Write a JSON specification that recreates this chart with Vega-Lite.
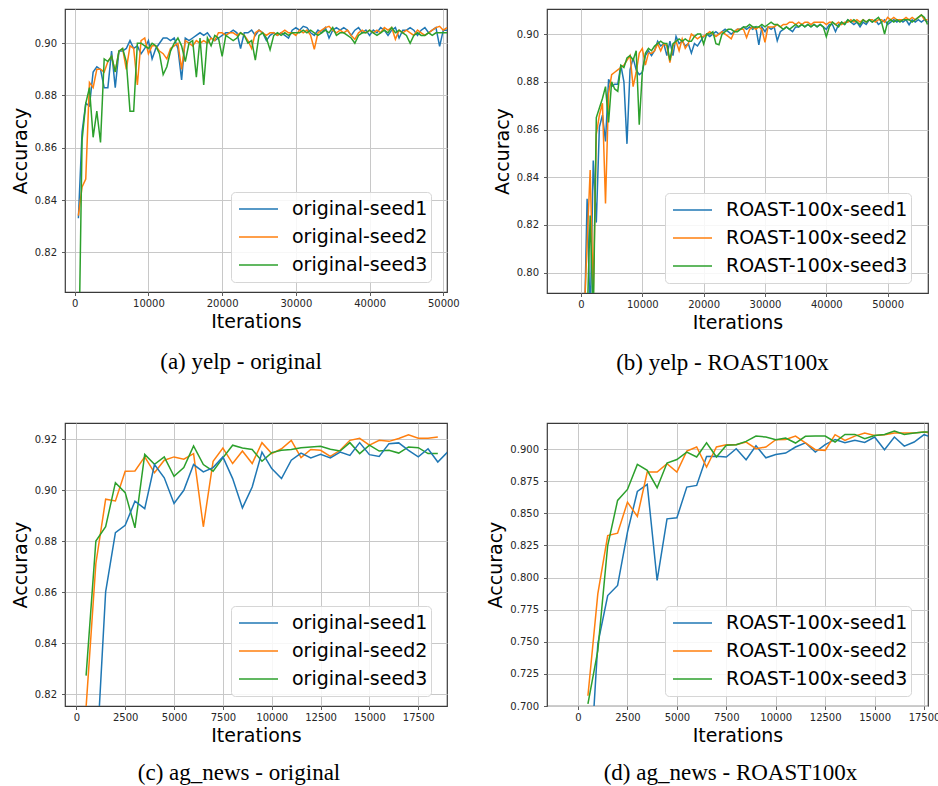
{
"$schema": "https://vega.github.io/schema/vega-lite/v6.json",
"padding": {"left": 10, "top": 8, "right": 0, "bottom": 0},
"config": {
  "font": "DejaVu Sans",
  "view": {"stroke": "#3a3a3a", "strokeWidth": 1.2},
  "axis": {"grid": true, "gridColor": "#c8c8c8", "gridWidth": 1, "domain": false, "tickColor": "#333333", "tickSize": 3.5, "tickWidth": 0.8, "labelFont": "DejaVu Sans", "labelFontSize": 10, "labelColor": "#262626", "labelPadding": 3, "labelFlush": false, "labelOverlap": false, "titleFont": "DejaVu Sans", "titleFontSize": 19, "titleFontWeight": "normal", "titleColor": "#000000"},
  "axisX": {"titlePadding": 4},
  "axisY": {"titlePadding": 4, "labelPadding": 5},
  "legend": {"orient": "none", "labelFont": "DejaVu Sans", "labelFontSize": 19, "labelColor": "#000000", "labelLimit": 0, "symbolType": "stroke", "symbolSize": 1521, "symbolStrokeWidth": 1.5, "symbolOffset": 4, "labelOffset": 13, "clipHeight": 28, "strokeColor": "#d6d6d6", "fillColor": "rgba(255,255,255,0.85)", "cornerRadius": 4, "padding": 3, "rowPadding": 0},
  "title": {"font": "Liberation Serif", "fontSize": 23, "fontWeight": "normal", "color": "#000000", "orient": "bottom", "frame": "group", "anchor": "middle", "offset": 19}
},
"datasets": {
"a": [
{"x":500,"original-seed1":0.833,"original-seed2":0.834,"original-seed3":0.770},
{"x":1000,"original-seed1":0.866,"original-seed2":0.845,"original-seed3":0.863},
{"x":1500,"original-seed1":0.877,"original-seed2":0.848,"original-seed3":0.877},
{"x":2000,"original-seed1":0.876,"original-seed2":0.885,"original-seed3":0.883},
{"x":2500,"original-seed1":0.889,"original-seed2":0.883,"original-seed3":0.864},
{"x":3000,"original-seed1":0.891,"original-seed2":0.890,"original-seed3":0.874},
{"x":3500,"original-seed1":0.890,"original-seed2":0.890,"original-seed3":0.862},
{"x":4000,"original-seed1":0.883,"original-seed2":0.889,"original-seed3":0.894},
{"x":4500,"original-seed1":0.883,"original-seed2":0.893,"original-seed3":0.893},
{"x":5000,"original-seed1":0.897,"original-seed2":0.895,"original-seed3":0.895},
{"x":5500,"original-seed1":0.883,"original-seed2":0.889,"original-seed3":0.889},
{"x":6000,"original-seed1":0.897,"original-seed2":0.897,"original-seed3":0.897},
{"x":6500,"original-seed1":0.897,"original-seed2":0.898,"original-seed3":0.898},
{"x":7000,"original-seed1":0.898,"original-seed2":0.890,"original-seed3":0.893},
{"x":7500,"original-seed1":0.901,"original-seed2":0.899,"original-seed3":0.874},
{"x":8000,"original-seed1":0.898,"original-seed2":0.898,"original-seed3":0.874},
{"x":8500,"original-seed1":0.899,"original-seed2":0.884,"original-seed3":0.900},
{"x":9000,"original-seed1":0.896,"original-seed2":0.901,"original-seed3":0.900},
{"x":9500,"original-seed1":0.898,"original-seed2":0.902,"original-seed3":0.899},
{"x":10000,"original-seed1":0.901,"original-seed2":0.896,"original-seed3":0.898},
{"x":10500,"original-seed1":0.894,"original-seed2":0.899,"original-seed3":0.900},
{"x":11000,"original-seed1":0.898,"original-seed2":0.899,"original-seed3":0.899},
{"x":11500,"original-seed1":0.900,"original-seed2":0.897,"original-seed3":0.896},
{"x":12000,"original-seed1":0.902,"original-seed2":0.896,"original-seed3":0.888},
{"x":12500,"original-seed1":0.902,"original-seed2":0.894,"original-seed3":0.891},
{"x":13000,"original-seed1":0.901,"original-seed2":0.898,"original-seed3":0.897},
{"x":13500,"original-seed1":0.902,"original-seed2":0.899,"original-seed3":0.900},
{"x":14000,"original-seed1":0.898,"original-seed2":0.900,"original-seed3":0.902},
{"x":14500,"original-seed1":0.886,"original-seed2":0.890,"original-seed3":0.899},
{"x":15000,"original-seed1":0.902,"original-seed2":0.901,"original-seed3":0.893},
{"x":15500,"original-seed1":0.901,"original-seed2":0.900,"original-seed3":0.900},
{"x":16000,"original-seed1":0.902,"original-seed2":0.899,"original-seed3":0.901},
{"x":16500,"original-seed1":0.903,"original-seed2":0.901,"original-seed3":0.887},
{"x":17000,"original-seed1":0.904,"original-seed2":0.900,"original-seed3":0.902},
{"x":17500,"original-seed1":0.903,"original-seed2":0.901,"original-seed3":0.884},
{"x":18000,"original-seed1":0.904,"original-seed2":0.900,"original-seed3":0.902},
{"x":18500,"original-seed1":0.902,"original-seed2":0.902,"original-seed3":0.899},
{"x":19000,"original-seed1":0.901,"original-seed2":0.901,"original-seed3":0.903},
{"x":19500,"original-seed1":0.902,"original-seed2":0.904,"original-seed3":0.902},
{"x":20000,"original-seed1":0.903,"original-seed2":0.904,"original-seed3":0.895},
{"x":20500,"original-seed1":0.904,"original-seed2":0.903,"original-seed3":0.903},
{"x":21000,"original-seed1":0.904,"original-seed2":0.904,"original-seed3":0.902},
{"x":21500,"original-seed1":0.905,"original-seed2":0.904,"original-seed3":0.901},
{"x":22000,"original-seed1":0.904,"original-seed2":0.903,"original-seed3":0.902},
{"x":22500,"original-seed1":0.898,"original-seed2":0.904,"original-seed3":0.904},
{"x":23000,"original-seed1":0.904,"original-seed2":0.903,"original-seed3":0.903},
{"x":23500,"original-seed1":0.904,"original-seed2":0.901,"original-seed3":0.900},
{"x":24000,"original-seed1":0.905,"original-seed2":0.898,"original-seed3":0.901},
{"x":24500,"original-seed1":0.903,"original-seed2":0.904,"original-seed3":0.8935},
{"x":25000,"original-seed1":0.905,"original-seed2":0.905,"original-seed3":0.903},
{"x":25500,"original-seed1":0.904,"original-seed2":0.904,"original-seed3":0.904},
{"x":26000,"original-seed1":0.901,"original-seed2":0.903,"original-seed3":0.902},
{"x":26500,"original-seed1":0.903,"original-seed2":0.904,"original-seed3":0.8975},
{"x":27000,"original-seed1":0.904,"original-seed2":0.904,"original-seed3":0.903},
{"x":27500,"original-seed1":0.903,"original-seed2":0.903,"original-seed3":0.904},
{"x":28000,"original-seed1":0.904,"original-seed2":0.904,"original-seed3":0.903},
{"x":28500,"original-seed1":0.903,"original-seed2":0.905,"original-seed3":0.904},
{"x":29000,"original-seed1":0.902,"original-seed2":0.904,"original-seed3":0.903},
{"x":29500,"original-seed1":0.905,"original-seed2":0.904,"original-seed3":0.904},
{"x":30000,"original-seed1":0.906,"original-seed2":0.903,"original-seed3":0.904},
{"x":30500,"original-seed1":0.905,"original-seed2":0.905,"original-seed3":0.904},
{"x":31000,"original-seed1":0.9065,"original-seed2":0.904,"original-seed3":0.905},
{"x":31500,"original-seed1":0.906,"original-seed2":0.905,"original-seed3":0.904},
{"x":32000,"original-seed1":0.904,"original-seed2":0.903,"original-seed3":0.905},
{"x":32500,"original-seed1":0.903,"original-seed2":0.8977,"original-seed3":0.904},
{"x":33000,"original-seed1":0.905,"original-seed2":0.904,"original-seed3":0.903},
{"x":33500,"original-seed1":0.904,"original-seed2":0.905,"original-seed3":0.904},
{"x":34000,"original-seed1":0.906,"original-seed2":0.906,"original-seed3":0.905},
{"x":34500,"original-seed1":0.902,"original-seed2":0.9065,"original-seed3":0.904},
{"x":35000,"original-seed1":0.905,"original-seed2":0.905,"original-seed3":0.906},
{"x":35500,"original-seed1":0.906,"original-seed2":0.904,"original-seed3":0.903},
{"x":36000,"original-seed1":0.905,"original-seed2":0.905,"original-seed3":0.904},
{"x":36500,"original-seed1":0.906,"original-seed2":0.904,"original-seed3":0.904},
{"x":37000,"original-seed1":0.905,"original-seed2":0.905,"original-seed3":0.903},
{"x":37500,"original-seed1":0.903,"original-seed2":0.903,"original-seed3":0.902},
{"x":38000,"original-seed1":0.905,"original-seed2":0.9015,"original-seed3":0.900},
{"x":38500,"original-seed1":0.906,"original-seed2":0.904,"original-seed3":0.903},
{"x":39000,"original-seed1":0.904,"original-seed2":0.905,"original-seed3":0.904},
{"x":39500,"original-seed1":0.905,"original-seed2":0.904,"original-seed3":0.904},
{"x":40000,"original-seed1":0.903,"original-seed2":0.905,"original-seed3":0.905},
{"x":40500,"original-seed1":0.905,"original-seed2":0.904,"original-seed3":0.904},
{"x":41000,"original-seed1":0.904,"original-seed2":0.905,"original-seed3":0.903},
{"x":41500,"original-seed1":0.906,"original-seed2":0.904,"original-seed3":0.904},
{"x":42000,"original-seed1":0.905,"original-seed2":0.906,"original-seed3":0.905},
{"x":42500,"original-seed1":0.903,"original-seed2":0.905,"original-seed3":0.904},
{"x":43000,"original-seed1":0.905,"original-seed2":0.906,"original-seed3":0.906},
{"x":43500,"original-seed1":0.906,"original-seed2":0.9015,"original-seed3":0.904},
{"x":44000,"original-seed1":0.902,"original-seed2":0.905,"original-seed3":0.905},
{"x":44500,"original-seed1":0.905,"original-seed2":0.904,"original-seed3":0.904},
{"x":45000,"original-seed1":0.905,"original-seed2":0.905,"original-seed3":0.903},
{"x":45500,"original-seed1":0.906,"original-seed2":0.904,"original-seed3":0.900},
{"x":46000,"original-seed1":0.905,"original-seed2":0.903,"original-seed3":0.903},
{"x":46500,"original-seed1":0.903,"original-seed2":0.905,"original-seed3":0.904},
{"x":47000,"original-seed1":0.905,"original-seed2":0.904,"original-seed3":0.903},
{"x":47500,"original-seed1":0.906,"original-seed2":0.903,"original-seed3":0.903},
{"x":48000,"original-seed1":0.904,"original-seed2":0.904,"original-seed3":0.904},
{"x":48500,"original-seed1":0.905,"original-seed2":0.905,"original-seed3":0.903},
{"x":49000,"original-seed1":0.906,"original-seed2":0.906,"original-seed3":0.904},
{"x":49500,"original-seed1":0.8988,"original-seed2":0.9065,"original-seed3":0.904},
{"x":50000,"original-seed1":0.905,"original-seed2":0.905,"original-seed3":0.904},
{"x":50500,"original-seed1":0.905,"original-seed2":0.906,"original-seed3":0.904}
],
"b": [
{"x":500,"ROAST-100x-seed1":0.770,"ROAST-100x-seed2":0.780,"ROAST-100x-seed3":0.760},
{"x":1000,"ROAST-100x-seed1":0.831,"ROAST-100x-seed2":0.812,"ROAST-100x-seed3":0.780},
{"x":1500,"ROAST-100x-seed1":0.780,"ROAST-100x-seed2":0.843,"ROAST-100x-seed3":0.824},
{"x":2000,"ROAST-100x-seed1":0.847,"ROAST-100x-seed2":0.790,"ROAST-100x-seed3":0.780},
{"x":2500,"ROAST-100x-seed1":0.821,"ROAST-100x-seed2":0.858,"ROAST-100x-seed3":0.865},
{"x":3000,"ROAST-100x-seed1":0.861,"ROAST-100x-seed2":0.866,"ROAST-100x-seed3":0.869},
{"x":3500,"ROAST-100x-seed1":0.866,"ROAST-100x-seed2":0.871,"ROAST-100x-seed3":0.873},
{"x":4000,"ROAST-100x-seed1":0.855,"ROAST-100x-seed2":0.829,"ROAST-100x-seed3":0.878},
{"x":4500,"ROAST-100x-seed1":0.881,"ROAST-100x-seed2":0.875,"ROAST-100x-seed3":0.863},
{"x":5000,"ROAST-100x-seed1":0.878,"ROAST-100x-seed2":0.883,"ROAST-100x-seed3":0.880},
{"x":5500,"ROAST-100x-seed1":0.879,"ROAST-100x-seed2":0.884,"ROAST-100x-seed3":0.877},
{"x":6000,"ROAST-100x-seed1":0.879,"ROAST-100x-seed2":0.885,"ROAST-100x-seed3":0.876},
{"x":6500,"ROAST-100x-seed1":0.887,"ROAST-100x-seed2":0.886,"ROAST-100x-seed3":0.887},
{"x":7000,"ROAST-100x-seed1":0.880,"ROAST-100x-seed2":0.887,"ROAST-100x-seed3":0.886},
{"x":7500,"ROAST-100x-seed1":0.854,"ROAST-100x-seed2":0.889,"ROAST-100x-seed3":0.890},
{"x":8000,"ROAST-100x-seed1":0.885,"ROAST-100x-seed2":0.891,"ROAST-100x-seed3":0.891},
{"x":8500,"ROAST-100x-seed1":0.890,"ROAST-100x-seed2":0.878,"ROAST-100x-seed3":0.889},
{"x":9000,"ROAST-100x-seed1":0.885,"ROAST-100x-seed2":0.884,"ROAST-100x-seed3":0.893},
{"x":9500,"ROAST-100x-seed1":0.883,"ROAST-100x-seed2":0.892,"ROAST-100x-seed3":0.862},
{"x":10000,"ROAST-100x-seed1":0.884,"ROAST-100x-seed2":0.894,"ROAST-100x-seed3":0.884},
{"x":10500,"ROAST-100x-seed1":0.891,"ROAST-100x-seed2":0.887,"ROAST-100x-seed3":0.892},
{"x":11000,"ROAST-100x-seed1":0.893,"ROAST-100x-seed2":0.892,"ROAST-100x-seed3":0.894},
{"x":11500,"ROAST-100x-seed1":0.891,"ROAST-100x-seed2":0.892,"ROAST-100x-seed3":0.893},
{"x":12000,"ROAST-100x-seed1":0.893,"ROAST-100x-seed2":0.893,"ROAST-100x-seed3":0.895},
{"x":12500,"ROAST-100x-seed1":0.897,"ROAST-100x-seed2":0.896,"ROAST-100x-seed3":0.896},
{"x":13000,"ROAST-100x-seed1":0.895,"ROAST-100x-seed2":0.893,"ROAST-100x-seed3":0.897},
{"x":13500,"ROAST-100x-seed1":0.896,"ROAST-100x-seed2":0.896,"ROAST-100x-seed3":0.896},
{"x":14000,"ROAST-100x-seed1":0.891,"ROAST-100x-seed2":0.895,"ROAST-100x-seed3":0.896},
{"x":14500,"ROAST-100x-seed1":0.897,"ROAST-100x-seed2":0.888,"ROAST-100x-seed3":0.889},
{"x":15000,"ROAST-100x-seed1":0.891,"ROAST-100x-seed2":0.895,"ROAST-100x-seed3":0.896},
{"x":15500,"ROAST-100x-seed1":0.899,"ROAST-100x-seed2":0.897,"ROAST-100x-seed3":0.897},
{"x":16000,"ROAST-100x-seed1":0.896,"ROAST-100x-seed2":0.893,"ROAST-100x-seed3":0.898},
{"x":16500,"ROAST-100x-seed1":0.897,"ROAST-100x-seed2":0.898,"ROAST-100x-seed3":0.897},
{"x":17000,"ROAST-100x-seed1":0.895,"ROAST-100x-seed2":0.894,"ROAST-100x-seed3":0.898},
{"x":17500,"ROAST-100x-seed1":0.896,"ROAST-100x-seed2":0.896,"ROAST-100x-seed3":0.897},
{"x":18000,"ROAST-100x-seed1":0.892,"ROAST-100x-seed2":0.900,"ROAST-100x-seed3":0.897},
{"x":18500,"ROAST-100x-seed1":0.896,"ROAST-100x-seed2":0.899,"ROAST-100x-seed3":0.899},
{"x":19000,"ROAST-100x-seed1":0.895,"ROAST-100x-seed2":0.898,"ROAST-100x-seed3":0.900},
{"x":19500,"ROAST-100x-seed1":0.897,"ROAST-100x-seed2":0.899,"ROAST-100x-seed3":0.900},
{"x":20000,"ROAST-100x-seed1":0.899,"ROAST-100x-seed2":0.899,"ROAST-100x-seed3":0.8958},
{"x":20500,"ROAST-100x-seed1":0.900,"ROAST-100x-seed2":0.900,"ROAST-100x-seed3":0.900},
{"x":21000,"ROAST-100x-seed1":0.899,"ROAST-100x-seed2":0.901,"ROAST-100x-seed3":0.900},
{"x":21500,"ROAST-100x-seed1":0.900,"ROAST-100x-seed2":0.900,"ROAST-100x-seed3":0.901},
{"x":22000,"ROAST-100x-seed1":0.901,"ROAST-100x-seed2":0.899,"ROAST-100x-seed3":0.896},
{"x":22500,"ROAST-100x-seed1":0.900,"ROAST-100x-seed2":0.900,"ROAST-100x-seed3":0.8955},
{"x":23000,"ROAST-100x-seed1":0.901,"ROAST-100x-seed2":0.901,"ROAST-100x-seed3":0.900},
{"x":23500,"ROAST-100x-seed1":0.902,"ROAST-100x-seed2":0.900,"ROAST-100x-seed3":0.901},
{"x":24000,"ROAST-100x-seed1":0.901,"ROAST-100x-seed2":0.899,"ROAST-100x-seed3":0.902},
{"x":24500,"ROAST-100x-seed1":0.900,"ROAST-100x-seed2":0.898,"ROAST-100x-seed3":0.902},
{"x":25000,"ROAST-100x-seed1":0.901,"ROAST-100x-seed2":0.901,"ROAST-100x-seed3":0.901},
{"x":25500,"ROAST-100x-seed1":0.902,"ROAST-100x-seed2":0.902,"ROAST-100x-seed3":0.901},
{"x":26000,"ROAST-100x-seed1":0.902,"ROAST-100x-seed2":0.902,"ROAST-100x-seed3":0.902},
{"x":26500,"ROAST-100x-seed1":0.903,"ROAST-100x-seed2":0.902,"ROAST-100x-seed3":0.903},
{"x":27000,"ROAST-100x-seed1":0.902,"ROAST-100x-seed2":0.8985,"ROAST-100x-seed3":0.903},
{"x":27500,"ROAST-100x-seed1":0.903,"ROAST-100x-seed2":0.902,"ROAST-100x-seed3":0.904},
{"x":28000,"ROAST-100x-seed1":0.902,"ROAST-100x-seed2":0.903,"ROAST-100x-seed3":0.903},
{"x":28500,"ROAST-100x-seed1":0.903,"ROAST-100x-seed2":0.902,"ROAST-100x-seed3":0.903},
{"x":29000,"ROAST-100x-seed1":0.8955,"ROAST-100x-seed2":0.903,"ROAST-100x-seed3":0.903},
{"x":29500,"ROAST-100x-seed1":0.903,"ROAST-100x-seed2":0.902,"ROAST-100x-seed3":0.904},
{"x":30000,"ROAST-100x-seed1":0.901,"ROAST-100x-seed2":0.8965,"ROAST-100x-seed3":0.903},
{"x":30500,"ROAST-100x-seed1":0.903,"ROAST-100x-seed2":0.903,"ROAST-100x-seed3":0.904},
{"x":31000,"ROAST-100x-seed1":0.902,"ROAST-100x-seed2":0.903,"ROAST-100x-seed3":0.905},
{"x":31500,"ROAST-100x-seed1":0.903,"ROAST-100x-seed2":0.903,"ROAST-100x-seed3":0.904},
{"x":32000,"ROAST-100x-seed1":0.8972,"ROAST-100x-seed2":0.904,"ROAST-100x-seed3":0.904},
{"x":32500,"ROAST-100x-seed1":0.901,"ROAST-100x-seed2":0.903,"ROAST-100x-seed3":0.903},
{"x":33000,"ROAST-100x-seed1":0.902,"ROAST-100x-seed2":0.904,"ROAST-100x-seed3":0.902},
{"x":33500,"ROAST-100x-seed1":0.903,"ROAST-100x-seed2":0.904,"ROAST-100x-seed3":0.903},
{"x":34000,"ROAST-100x-seed1":0.902,"ROAST-100x-seed2":0.905,"ROAST-100x-seed3":0.902},
{"x":34500,"ROAST-100x-seed1":0.901,"ROAST-100x-seed2":0.905,"ROAST-100x-seed3":0.903},
{"x":35000,"ROAST-100x-seed1":0.903,"ROAST-100x-seed2":0.904,"ROAST-100x-seed3":0.904},
{"x":35500,"ROAST-100x-seed1":0.903,"ROAST-100x-seed2":0.905,"ROAST-100x-seed3":0.903},
{"x":36000,"ROAST-100x-seed1":0.904,"ROAST-100x-seed2":0.904,"ROAST-100x-seed3":0.904},
{"x":36500,"ROAST-100x-seed1":0.903,"ROAST-100x-seed2":0.905,"ROAST-100x-seed3":0.903},
{"x":37000,"ROAST-100x-seed1":0.904,"ROAST-100x-seed2":0.905,"ROAST-100x-seed3":0.904},
{"x":37500,"ROAST-100x-seed1":0.903,"ROAST-100x-seed2":0.904,"ROAST-100x-seed3":0.903},
{"x":38000,"ROAST-100x-seed1":0.904,"ROAST-100x-seed2":0.905,"ROAST-100x-seed3":0.904},
{"x":38500,"ROAST-100x-seed1":0.903,"ROAST-100x-seed2":0.905,"ROAST-100x-seed3":0.903},
{"x":39000,"ROAST-100x-seed1":0.904,"ROAST-100x-seed2":0.905,"ROAST-100x-seed3":0.904},
{"x":39500,"ROAST-100x-seed1":0.903,"ROAST-100x-seed2":0.905,"ROAST-100x-seed3":0.903},
{"x":40000,"ROAST-100x-seed1":0.902,"ROAST-100x-seed2":0.904,"ROAST-100x-seed3":0.8989},
{"x":40500,"ROAST-100x-seed1":0.904,"ROAST-100x-seed2":0.905,"ROAST-100x-seed3":0.903},
{"x":41000,"ROAST-100x-seed1":0.904,"ROAST-100x-seed2":0.905,"ROAST-100x-seed3":0.905},
{"x":41500,"ROAST-100x-seed1":0.901,"ROAST-100x-seed2":0.904,"ROAST-100x-seed3":0.904},
{"x":42000,"ROAST-100x-seed1":0.904,"ROAST-100x-seed2":0.905,"ROAST-100x-seed3":0.903},
{"x":42500,"ROAST-100x-seed1":0.905,"ROAST-100x-seed2":0.904,"ROAST-100x-seed3":0.905},
{"x":43000,"ROAST-100x-seed1":0.904,"ROAST-100x-seed2":0.905,"ROAST-100x-seed3":0.904},
{"x":43500,"ROAST-100x-seed1":0.906,"ROAST-100x-seed2":0.905,"ROAST-100x-seed3":0.906},
{"x":44000,"ROAST-100x-seed1":0.905,"ROAST-100x-seed2":0.906,"ROAST-100x-seed3":0.905},
{"x":44500,"ROAST-100x-seed1":0.904,"ROAST-100x-seed2":0.905,"ROAST-100x-seed3":0.906},
{"x":45000,"ROAST-100x-seed1":0.905,"ROAST-100x-seed2":0.906,"ROAST-100x-seed3":0.905},
{"x":45500,"ROAST-100x-seed1":0.903,"ROAST-100x-seed2":0.905,"ROAST-100x-seed3":0.904},
{"x":46000,"ROAST-100x-seed1":0.905,"ROAST-100x-seed2":0.906,"ROAST-100x-seed3":0.906},
{"x":46500,"ROAST-100x-seed1":0.904,"ROAST-100x-seed2":0.905,"ROAST-100x-seed3":0.905},
{"x":47000,"ROAST-100x-seed1":0.906,"ROAST-100x-seed2":0.906,"ROAST-100x-seed3":0.906},
{"x":47500,"ROAST-100x-seed1":0.905,"ROAST-100x-seed2":0.906,"ROAST-100x-seed3":0.905},
{"x":48000,"ROAST-100x-seed1":0.906,"ROAST-100x-seed2":0.905,"ROAST-100x-seed3":0.906},
{"x":48500,"ROAST-100x-seed1":0.904,"ROAST-100x-seed2":0.906,"ROAST-100x-seed3":0.907},
{"x":49000,"ROAST-100x-seed1":0.905,"ROAST-100x-seed2":0.906,"ROAST-100x-seed3":0.905},
{"x":49500,"ROAST-100x-seed1":0.906,"ROAST-100x-seed2":0.905,"ROAST-100x-seed3":0.900},
{"x":50000,"ROAST-100x-seed1":0.904,"ROAST-100x-seed2":0.907,"ROAST-100x-seed3":0.905},
{"x":50500,"ROAST-100x-seed1":0.905,"ROAST-100x-seed2":0.906,"ROAST-100x-seed3":0.906},
{"x":51000,"ROAST-100x-seed1":0.906,"ROAST-100x-seed2":0.907,"ROAST-100x-seed3":0.905},
{"x":51500,"ROAST-100x-seed1":0.905,"ROAST-100x-seed2":0.906,"ROAST-100x-seed3":0.906},
{"x":52000,"ROAST-100x-seed1":0.906,"ROAST-100x-seed2":0.906,"ROAST-100x-seed3":0.905},
{"x":52500,"ROAST-100x-seed1":0.905,"ROAST-100x-seed2":0.906,"ROAST-100x-seed3":0.906},
{"x":53000,"ROAST-100x-seed1":0.906,"ROAST-100x-seed2":0.907,"ROAST-100x-seed3":0.906},
{"x":53500,"ROAST-100x-seed1":0.9039,"ROAST-100x-seed2":0.906,"ROAST-100x-seed3":0.906},
{"x":54000,"ROAST-100x-seed1":0.906,"ROAST-100x-seed2":0.907,"ROAST-100x-seed3":0.905},
{"x":54500,"ROAST-100x-seed1":0.905,"ROAST-100x-seed2":0.906,"ROAST-100x-seed3":0.906},
{"x":55000,"ROAST-100x-seed1":0.906,"ROAST-100x-seed2":0.907,"ROAST-100x-seed3":0.907},
{"x":55500,"ROAST-100x-seed1":0.905,"ROAST-100x-seed2":0.908,"ROAST-100x-seed3":0.908},
{"x":56000,"ROAST-100x-seed1":0.906,"ROAST-100x-seed2":0.906,"ROAST-100x-seed3":0.907},
{"x":56500,"ROAST-100x-seed1":0.905,"ROAST-100x-seed2":0.906,"ROAST-100x-seed3":0.904}
],
"c": [
{"x":500,"original-seed2":0.815,"original-seed3":0.8273},
{"x":1000,"original-seed1":0.790,"original-seed2":0.8713,"original-seed3":0.8801},
{"x":1500,"original-seed1":0.8602,"original-seed2":0.8965,"original-seed3":0.8857},
{"x":2000,"original-seed1":0.8834,"original-seed2":0.8958,"original-seed3":0.9030},
{"x":2500,"original-seed1":0.8863,"original-seed2":0.9075,"original-seed3":0.8991},
{"x":3000,"original-seed1":0.8957,"original-seed2":0.9076,"original-seed3":0.8853},
{"x":3500,"original-seed1":0.8928,"original-seed2":0.9131,"original-seed3":0.9141},
{"x":4000,"original-seed1":0.9101,"original-seed2":0.9069,"original-seed3":0.9102},
{"x":4500,"original-seed1":0.9049,"original-seed2":0.9118,"original-seed3":0.9131},
{"x":5000,"original-seed1":0.8948,"original-seed2":0.9131,"original-seed3":0.9055},
{"x":5500,"original-seed1":0.9000,"original-seed2":0.9122,"original-seed3":0.9089},
{"x":6000,"original-seed1":0.9101,"original-seed2":0.9144,"original-seed3":0.9174},
{"x":6500,"original-seed1":0.9072,"original-seed2":0.8857,"original-seed3":0.9101},
{"x":7000,"original-seed1":0.9089,"original-seed2":0.9114,"original-seed3":0.9075},
{"x":7500,"original-seed1":0.9131,"original-seed2":0.9166,"original-seed3":0.9127},
{"x":8000,"original-seed1":0.9046,"original-seed2":0.9105,"original-seed3":0.9177},
{"x":8500,"original-seed1":0.8931,"original-seed2":0.9154,"original-seed3":0.9166},
{"x":9000,"original-seed1":0.9013,"original-seed2":0.9105,"original-seed3":0.9160},
{"x":9500,"original-seed1":0.9150,"original-seed2":0.9187,"original-seed3":0.9114},
{"x":10000,"original-seed1":0.9085,"original-seed2":0.9144,"original-seed3":0.9148},
{"x":10500,"original-seed1":0.9046,"original-seed2":0.9163,"original-seed3":0.9157},
{"x":11000,"original-seed1":0.9118,"original-seed2":0.9196,"original-seed3":0.9160},
{"x":11500,"original-seed1":0.9146,"original-seed2":0.9128,"original-seed3":0.9167},
{"x":12000,"original-seed1":0.9127,"original-seed2":0.9160,"original-seed3":0.9170},
{"x":12500,"original-seed1":0.9141,"original-seed2":0.9157,"original-seed3":0.9173},
{"x":13000,"original-seed1":0.9127,"original-seed2":0.9133,"original-seed3":0.9161},
{"x":13500,"original-seed1":0.9150,"original-seed2":0.9157,"original-seed3":0.9154},
{"x":14000,"original-seed1":0.9137,"original-seed2":0.9196,"original-seed3":0.9187},
{"x":14500,"original-seed1":0.9187,"original-seed2":0.9204,"original-seed3":0.9144},
{"x":15000,"original-seed1":0.9140,"original-seed2":0.9177,"original-seed3":0.9177},
{"x":15500,"original-seed1":0.9133,"original-seed2":0.9196,"original-seed3":0.9154},
{"x":16000,"original-seed1":0.9183,"original-seed2":0.9192,"original-seed3":0.9157},
{"x":16500,"original-seed1":0.9186,"original-seed2":0.9203,"original-seed3":0.9146},
{"x":17000,"original-seed1":0.9157,"original-seed2":0.9218,"original-seed3":0.9170},
{"x":17500,"original-seed1":0.9131,"original-seed2":0.9204,"original-seed3":0.9167},
{"x":18000,"original-seed1":0.9163,"original-seed2":0.9204,"original-seed3":0.9144},
{"x":18500,"original-seed1":0.9111,"original-seed2":0.9209,"original-seed3":0.9144},
{"x":19000,"original-seed1":0.9150}
],
"d": [
{"x":500,"ROAST-100x-seed1":0.621,"ROAST-100x-seed2":0.708,"ROAST-100x-seed3":0.7016},
{"x":1000,"ROAST-100x-seed1":0.7483,"ROAST-100x-seed2":0.7873,"ROAST-100x-seed3":0.7431},
{"x":1500,"ROAST-100x-seed1":0.786,"ROAST-100x-seed2":0.8327,"ROAST-100x-seed3":0.8249},
{"x":2000,"ROAST-100x-seed1":0.7938,"ROAST-100x-seed2":0.8345,"ROAST-100x-seed3":0.8600},
{"x":2500,"ROAST-100x-seed1":0.8353,"ROAST-100x-seed2":0.8587,"ROAST-100x-seed3":0.8686},
{"x":3000,"ROAST-100x-seed1":0.8670,"ROAST-100x-seed2":0.8475,"ROAST-100x-seed3":0.8881},
{"x":3500,"ROAST-100x-seed1":0.8725,"ROAST-100x-seed2":0.8821,"ROAST-100x-seed3":0.8834},
{"x":4000,"ROAST-100x-seed1":0.7977,"ROAST-100x-seed2":0.8821,"ROAST-100x-seed3":0.8699},
{"x":4500,"ROAST-100x-seed1":0.8457,"ROAST-100x-seed2":0.8886,"ROAST-100x-seed3":0.8891},
{"x":5000,"ROAST-100x-seed1":0.8465,"ROAST-100x-seed2":0.8821,"ROAST-100x-seed3":0.8919},
{"x":5500,"ROAST-100x-seed1":0.8704,"ROAST-100x-seed2":0.8984,"ROAST-100x-seed3":0.8977},
{"x":6000,"ROAST-100x-seed1":0.8717,"ROAST-100x-seed2":0.9016,"ROAST-100x-seed3":0.8938},
{"x":6500,"ROAST-100x-seed1":0.8943,"ROAST-100x-seed2":0.8860,"ROAST-100x-seed3":0.9049},
{"x":7000,"ROAST-100x-seed1":0.8945,"ROAST-100x-seed2":0.9016,"ROAST-100x-seed3":0.8938},
{"x":7500,"ROAST-100x-seed1":0.8938,"ROAST-100x-seed2":0.9034,"ROAST-100x-seed3":0.9029},
{"x":8000,"ROAST-100x-seed1":0.9003,"ROAST-100x-seed2":0.9034,"ROAST-100x-seed3":0.9034},
{"x":8500,"ROAST-100x-seed1":0.8917,"ROAST-100x-seed2":0.9055,"ROAST-100x-seed3":0.9060},
{"x":9000,"ROAST-100x-seed1":0.9026,"ROAST-100x-seed2":0.9003,"ROAST-100x-seed3":0.9101},
{"x":9500,"ROAST-100x-seed1":0.8932,"ROAST-100x-seed2":0.9016,"ROAST-100x-seed3":0.9094},
{"x":10000,"ROAST-100x-seed1":0.8958,"ROAST-100x-seed2":0.9073,"ROAST-100x-seed3":0.9073},
{"x":10500,"ROAST-100x-seed1":0.8969,"ROAST-100x-seed2":0.9075,"ROAST-100x-seed3":0.9086},
{"x":11000,"ROAST-100x-seed1":0.9016,"ROAST-100x-seed2":0.9101,"ROAST-100x-seed3":0.9047},
{"x":11500,"ROAST-100x-seed1":0.9049,"ROAST-100x-seed2":0.9049,"ROAST-100x-seed3":0.9099},
{"x":12000,"ROAST-100x-seed1":0.8977,"ROAST-100x-seed2":0.8995,"ROAST-100x-seed3":0.9101},
{"x":12500,"ROAST-100x-seed1":0.9034,"ROAST-100x-seed2":0.8990,"ROAST-100x-seed3":0.9101},
{"x":13000,"ROAST-100x-seed1":0.9075,"ROAST-100x-seed2":0.9112,"ROAST-100x-seed3":0.9055},
{"x":13500,"ROAST-100x-seed1":0.9049,"ROAST-100x-seed2":0.9068,"ROAST-100x-seed3":0.9114},
{"x":14000,"ROAST-100x-seed1":0.9068,"ROAST-100x-seed2":0.9101,"ROAST-100x-seed3":0.9114},
{"x":14500,"ROAST-100x-seed1":0.9052,"ROAST-100x-seed2":0.9125,"ROAST-100x-seed3":0.9081},
{"x":15000,"ROAST-100x-seed1":0.9094,"ROAST-100x-seed2":0.9106,"ROAST-100x-seed3":0.9106},
{"x":15500,"ROAST-100x-seed1":0.8995,"ROAST-100x-seed2":0.9112,"ROAST-100x-seed3":0.9114},
{"x":16000,"ROAST-100x-seed1":0.9094,"ROAST-100x-seed2":0.9125,"ROAST-100x-seed3":0.9140},
{"x":16500,"ROAST-100x-seed1":0.9023,"ROAST-100x-seed2":0.9125,"ROAST-100x-seed3":0.9114},
{"x":17000,"ROAST-100x-seed1":0.9055,"ROAST-100x-seed2":0.9125,"ROAST-100x-seed3":0.9125},
{"x":17500,"ROAST-100x-seed1":0.9112,"ROAST-100x-seed2":0.9132,"ROAST-100x-seed3":0.9132},
{"x":18000,"ROAST-100x-seed1":0.9088,"ROAST-100x-seed2":0.9127,"ROAST-100x-seed3":0.9132}
]
},
"columns": 2,
"spacing": {"row": 130, "column": 100},
"bounds": "flush",
"resolve": {"scale": {"x": "independent", "y": "independent", "color": "independent"}, "legend": {"color": "independent"}},
"concat": [
{
  "width": 382, "height": 283,
  "data": {"name": "a"},
  "transform": [{"fold": ["original-seed1", "original-seed2", "original-seed3"], "as": ["series", "acc"]}, {"filter": {"field": "acc", "valid": true}}],
  "title": {"text": "(a) yelp - original", "dx": -15},
  "mark": {"type": "line", "clip": true, "strokeWidth": 1.5},
  "encoding": {
    "x": {"field": "x", "type": "quantitative", "scale": {"domain": [-1316, 50500], "nice": false, "zero": false}, "axis": {"values": [0, 10000, 20000, 30000, 40000, 50000], "format": "d", "title": "Iterations"}},
    "y": {"field": "acc", "type": "quantitative", "scale": {"domain": [0.8048, 0.9131], "nice": false, "zero": false}, "axis": {"values": [0.82, 0.84, 0.86, 0.88, 0.90], "format": ".2f", "title": "Accuracy"}},
    "color": {"field": "series", "type": "nominal", "scale": {"domain": ["original-seed1", "original-seed2", "original-seed3"], "range": ["#1f77b4", "#ff7f0e", "#2ca02c"]}, "legend": {"title": null, "legendX": 166, "legendY": 183}}
  }
},
{
  "width": 381, "height": 284,
  "data": {"name": "b"},
  "transform": [{"fold": ["ROAST-100x-seed1", "ROAST-100x-seed2", "ROAST-100x-seed3"], "as": ["series", "acc"]}, {"filter": {"field": "acc", "valid": true}}],
  "title": {"text": "(b) yelp - ROAST100x", "dx": -15},
  "mark": {"type": "line", "clip": true, "strokeWidth": 1.5},
  "encoding": {
    "x": {"field": "x", "type": "quantitative", "scale": {"domain": [-5540, 56580], "nice": false, "zero": false}, "axis": {"values": [0, 10000, 20000, 30000, 40000, 50000], "format": "d", "title": "Iterations"}},
    "y": {"field": "acc", "type": "quantitative", "scale": {"domain": [0.7915, 0.9105], "nice": false, "zero": false}, "axis": {"values": [0.80, 0.82, 0.84, 0.86, 0.88, 0.90], "format": ".2f", "title": "Accuracy"}},
    "color": {"field": "series", "type": "nominal", "scale": {"domain": ["ROAST-100x-seed1", "ROAST-100x-seed2", "ROAST-100x-seed3"], "range": ["#1f77b4", "#ff7f0e", "#2ca02c"]}, "legend": {"title": null, "legendX": 118, "legendY": 184}}
  }
},
{
  "width": 382, "height": 283,
  "data": {"name": "c"},
  "transform": [{"fold": ["original-seed1", "original-seed2", "original-seed3"], "as": ["series", "acc"]}, {"filter": {"field": "acc", "valid": true}}],
  "title": {"text": "(c) ag_news - original", "dx": -17, "dy": -3},
  "mark": {"type": "line", "clip": true, "strokeWidth": 1.5},
  "encoding": {
    "x": {"field": "x", "type": "quantitative", "scale": {"domain": [-580, 18970], "nice": false, "zero": false}, "axis": {"values": [0, 2500, 5000, 7500, 10000, 12500, 15000, 17500], "format": "d", "title": "Iterations"}},
    "y": {"field": "acc", "type": "quantitative", "scale": {"domain": [0.8154, 0.9264], "nice": false, "zero": false}, "axis": {"values": [0.82, 0.84, 0.86, 0.88, 0.90, 0.92], "format": ".2f", "title": "Accuracy"}},
    "color": {"field": "series", "type": "nominal", "scale": {"domain": ["original-seed1", "original-seed2", "original-seed3"], "range": ["#1f77b4", "#ff7f0e", "#2ca02c"]}, "legend": {"title": null, "legendX": 166, "legendY": 183}}
  }
},
{
  "width": 381, "height": 283,
  "data": {"name": "d"},
  "transform": [{"fold": ["ROAST-100x-seed1", "ROAST-100x-seed2", "ROAST-100x-seed3"], "as": ["series", "acc"]}, {"filter": {"field": "acc", "valid": true}}],
  "title": {"text": "(d) ag_news - ROAST100x", "dx": -7, "dy": -3},
  "mark": {"type": "line", "clip": true, "strokeWidth": 1.5},
  "encoding": {
    "x": {"field": "x", "type": "quantitative", "scale": {"domain": [-1570, 17700], "nice": false, "zero": false}, "axis": {"values": [0, 2500, 5000, 7500, 10000, 12500, 15000, 17500], "format": "d", "title": "Iterations"}},
    "y": {"field": "acc", "type": "quantitative", "scale": {"domain": [0.700, 0.9203], "nice": false, "zero": false}, "axis": {"values": [0.700, 0.725, 0.750, 0.775, 0.800, 0.825, 0.850, 0.875, 0.900], "format": ".3f", "title": "Accuracy"}},
    "color": {"field": "series", "type": "nominal", "scale": {"domain": ["ROAST-100x-seed1", "ROAST-100x-seed2", "ROAST-100x-seed3"], "range": ["#1f77b4", "#ff7f0e", "#2ca02c"]}, "legend": {"title": null, "legendX": 118, "legendY": 183}}
  }
}
]
}
